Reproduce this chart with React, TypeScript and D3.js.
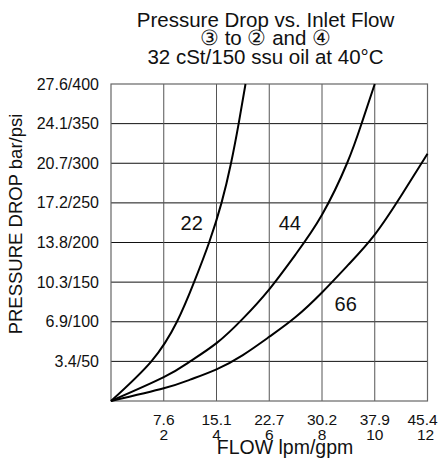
import React from 'react';
import { scaleLinear, line, curveNatural } from 'd3';

// flow in gpm, pressure drop in psi
const flow22 = [0, 1.53, 2.5, 3.15, 3.72, 4.19, 4.55, 4.84, 5.1];
const psi22 = [0, 50, 100, 150, 200, 250, 300, 350, 400];

const flow44 = [0, 2, 3, 4, 5, 6, 7, 8, 8.95, 9.5, 10];
const psi44 = [0, 30, 50, 73, 104, 141, 185, 235, 300, 350, 400];

const flow66 = [0, 2, 3, 4, 5, 6, 7, 8, 9, 10, 11, 12];
const psi66 = [0, 16, 27, 40, 58, 81, 106, 137, 172, 210, 259, 312];

const gpmTicks = [2, 4, 6, 8, 10, 12];
const lpmLabels = ['7.6', '15.1', '22.7', '30.2', '37.9', '45.4'];
const psiTicks = [50, 100, 150, 200, 250, 300, 350, 400];
const barLabels = ['3.4', '6.9', '10.3', '13.8', '17.2', '20.7', '24.1', '27.6'];

const curveNames = ['22', '44', '66'];
const labelFlow = [3.06, 6.78, 8.9];
const labelPsi = [224, 224, 123];

const titleLines = ['Pressure Drop vs. Inlet Flow', '③ to ② and ④', '32 cSt/150 ssu oil at 40°C'];

const font = "'Liberation Sans', Arial, Helvetica, sans-serif";

const App = () => {
  const x = scaleLinear().domain([0, 12]).range([111, 427.5]);
  const y = scaleLinear().domain([0, 400]).range([401, 84]);

  const path = line<[number, number]>()
    .x((d) => x(d[0]))
    .y((d) => y(d[1]))
    .curve(curveNatural);

  const series = [
    flow22.map((f, i) => [f, psi22[i]] as [number, number]),
    flow44.map((f, i) => [f, psi44[i]] as [number, number]),
    flow66.map((f, i) => [f, psi66[i]] as [number, number]),
  ];

  return (
    <svg
      width={439}
      height={472}
      style={{ position: 'absolute', left: 0, top: 0, background: '#fff' }}
      fontFamily={font}
    >
      {titleLines.map((t, i) => (
        <text key={t} x={265.5} y={27 + i * 18.3} textAnchor="middle" fontSize={20.5} fill="#111">
          {t}
        </text>
      ))}

      {/* grid */}
      {psiTicks.slice(0, -1).map((p) => (
        <line key={p} x1={x(0)} x2={x(12)} y1={y(p)} y2={y(p)} stroke="#111" strokeWidth={1} />
      ))}
      {gpmTicks.slice(0, -1).map((g) => (
        <line key={g} x1={x(g)} x2={x(g)} y1={y(0)} y2={y(400)} stroke="#555" strokeWidth={1} />
      ))}
      <rect x={x(0)} y={y(400)} width={x(12) - x(0)} height={y(0) - y(400)} fill="none" stroke="#666" strokeWidth={1.2} />

      {/* y tick labels */}
      {psiTicks.map((p, i) => (
        <text key={p} x={99} y={y(p)} dy="0.35em" textAnchor="end" fontSize={16} fill="#111">
          {barLabels[i]}/{p}
        </text>
      ))}

      {/* x tick labels */}
      {gpmTicks.map((g, i) => (
        <g key={g}>
          <text x={Math.min(x(g), 422.5)} y={424.5} textAnchor="middle" fontSize={15.5} fill="#111">
            {lpmLabels[i]}
          </text>
          <text x={Math.min(x(g), 425.5)} y={440} textAnchor="middle" fontSize={15.5} fill="#111">
            {g}
          </text>
        </g>
      ))}

      <text x={285} y={454} textAnchor="middle" fontSize={19.5} fill="#111">
        FLOW lpm/gpm
      </text>
      <text transform="translate(22,224) rotate(-90)" textAnchor="middle" fontSize={18.5} fill="#111">
        PRESSURE DROP bar/psi
      </text>

      {series.map((s, i) => (
        <path key={curveNames[i]} d={path(s) || ''} fill="none" stroke="#000" strokeWidth={2} />
      ))}

      {curveNames.map((n, i) => (
        <text key={n} x={x(labelFlow[i])} y={y(labelPsi[i])} dy="0.35em" textAnchor="middle" fontSize={20} fill="#111">
          {n}
        </text>
      ))}
    </svg>
  );
};

export default App;
